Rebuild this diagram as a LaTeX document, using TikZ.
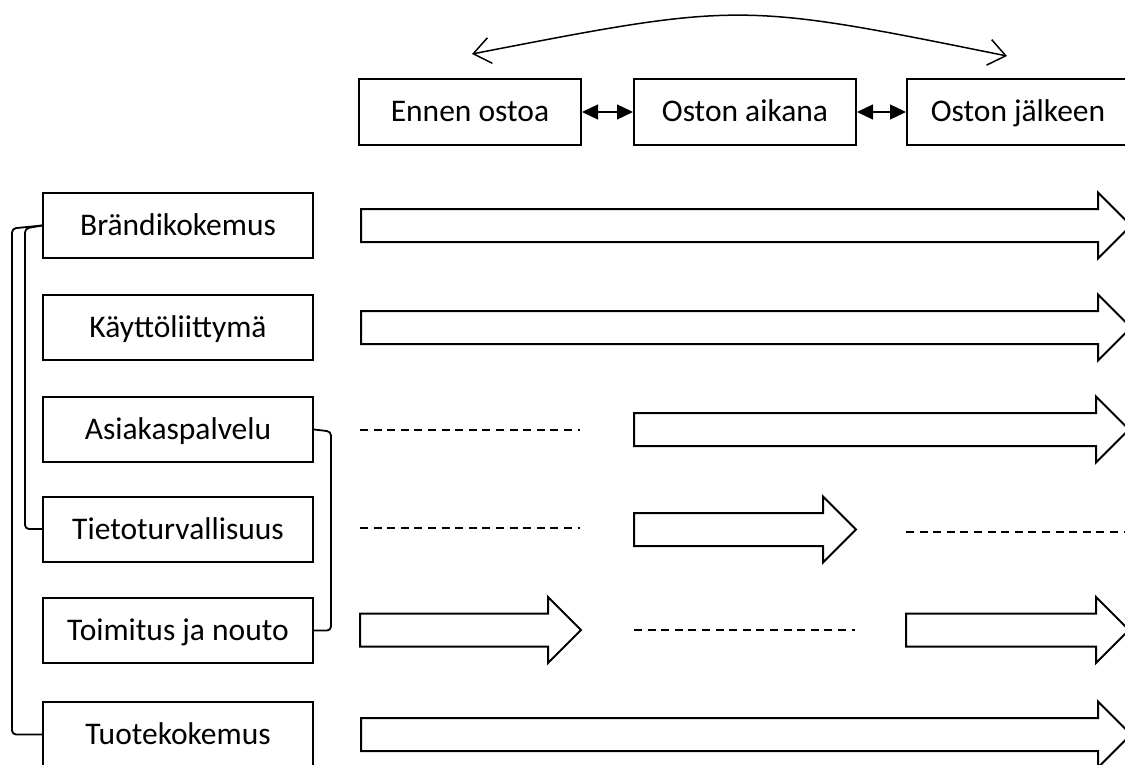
\documentclass[tikz,border=0pt]{standalone}
\usepackage{fontspec}
\setmainfont{Carlito}
\usetikzlibrary{arrows.meta}
\newcommand\blockarr[3]{%
  \draw[blk] (#1,#3-16.5) -- (#2-33,#3-16.5) -- (#2-33,#3-33) -- (#2,#3)
    -- (#2-33,#3+33) -- (#2-33,#3+16.5) -- (#1,#3+16.5) -- cycle;}
\newcommand\dashline[3]{%
  \draw[dsh] (#1,#3) -- (#2,#3);}
\begin{document}
\begin{tikzpicture}[x=1pt,y=-1pt,
  lbox/.style={draw,line width=2pt,minimum width=270pt,minimum height=65pt,inner sep=0pt,
    text height=20pt,text depth=0pt,font=\fontsize{31.5}{37}\selectfont},
  tbox/.style={draw,line width=2pt,minimum width=222pt,minimum height=66pt,inner sep=0pt,
    text height=20pt,text depth=0pt,font=\fontsize{31.5}{37}\selectfont},
  blk/.style={draw,line width=2pt,fill=white,line join=miter},
  dsh/.style={line width=1.7pt,dash pattern=on 8pt off 5.6pt},
  brk/.style={line width=1.8pt,rounded corners=4pt},
  dbl/.style={line width=1.3pt,{Triangle[length=16pt,width=15pt]}-{Triangle[length=16pt,width=15pt]}},
  crv/.style={line width=1.5pt,{Straight Barb[length=17pt,width=26pt,line width=1.5pt]}-{Straight Barb[length=17pt,width=26pt,line width=1.5pt]}}
]
\clip (0,0) rectangle (1125,765);
\fill[white] (0,0) rectangle (1125,765);

% top boxes
\node[tbox] (E) at (470,112) {Ennen ostoa};
\node[tbox] (O) at (745,112) {Oston aikana};
\node[tbox] (J) at (1018,112) {Oston jälkeen};
\draw[dbl] (E.east) -- (O.west);
\draw[dbl] (O.east) -- (J.west);

\coordinate (cl) at (472,54);
\coordinate (cr) at (1007,56);
\draw[crv] (cl) .. controls (740,2) .. (cr);

% left boxes
\node[lbox] (B)  at (178,225.5) {Brändikokemus};
\node[lbox] (K)  at (178,327.5) {Käyttöliittymä};
\node[lbox] (A)  at (178,429.5) {Asiakaspalvelu};
\node[lbox] (Ti) at (178,529)   {Tietoturvallisuus};
\node[lbox] (To) at (178,630.5) {Toimitus ja nouto};
\node[lbox] (Tu) at (178,734.5) {Tuotekokemus};

% brackets
\draw[brk] (B.west) -- ([xshift=-30pt,yshift=-3pt]B.west) |- (Tu.west);
\draw[brk] (B.west) -- ([xshift=-17pt,yshift=-3pt]B.west) |- (Ti.west);
\draw[brk] (A.east) -- ([xshift=17pt,yshift=-2pt]A.east) |- (To.east);

% rows
\blockarr{361}{1131}{225.5}
\blockarr{361}{1131}{327.5}
\dashline{360}{580}{430}
\blockarr{634}{1129}{429.5}
\dashline{360}{580}{528}
\blockarr{634}{856}{529.5}
\dashline{906}{1125}{532}
\blockarr{360}{581}{630}
\dashline{634}{855}{630}
\blockarr{906}{1129}{630}
\blockarr{361}{1131}{734.5}
\end{tikzpicture}
\end{document}
